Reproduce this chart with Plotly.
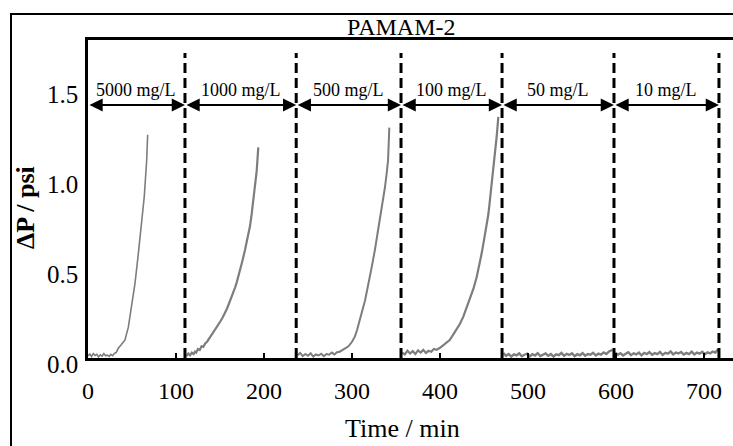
import plotly.graph_objects as go

# ---------------- data ----------------
title_text = "PAMAM-2"
x_title = "Time / min"
y_title = "<b>ΔP / psi</b>"

concentrations = ["5000 mg/L", "1000 mg/L", "500 mg/L", "100 mg/L", "50 mg/L", "10 mg/L"]
boundaries = [0, 110.2, 236.6, 355.7, 470.5, 597.7, 717.0]

x_ticks = [0, 100, 200, 300, 400, 500, 600, 700]
y_ticks = [0.0, 0.5, 1.0, 1.5]
y_tick_text = ["0.0", "0.5", "1.0", "1.5"]

seg1_t = [0, 2, 4, 6, 8, 10, 12, 14, 16, 18, 20, 22, 24, 26, 28, 30, 32, 34.4, 38, 42, 45.8,
          49.6, 53.4, 57.2, 61, 64, 66.7, 67.8]
seg1_y = [0.012, 0.022, 0.008, 0.025, 0.014, 0.020, 0.006, 0.018, 0.010, 0.024, 0.012, 0.016,
          0.009, 0.020, 0.013, 0.026, 0.030, 0.054, 0.075, 0.10, 0.17, 0.285, 0.415, 0.58, 0.75,
          0.90, 1.10, 1.24]

seg2_t = [112, 114, 116, 118, 120, 121.6, 123, 125, 127, 129, 131, 133, 135.5, 138, 141, 144,
          147, 150, 153, 155.7, 158, 160, 162.5, 165, 167, 169, 171, 172.7, 175.5, 178.4, 181,
          184, 186, 188, 190, 191.7, 193.5]
seg2_y = [0.010, 0.025, 0.015, 0.030, 0.022, 0.035, 0.030, 0.050, 0.045, 0.065, 0.062, 0.080,
          0.092, 0.110, 0.128, 0.155, 0.172, 0.200, 0.225, 0.250, 0.275, 0.300, 0.330, 0.360,
          0.390, 0.420, 0.455, 0.490, 0.540, 0.600, 0.660, 0.730, 0.800, 0.880, 0.960, 1.040,
          1.170]

seg3_t = [238, 241, 244, 247, 250, 253, 256, 259, 262, 265, 268, 271, 274, 277, 280, 283, 286,
          291, 296, 300, 303.4, 306, 309, 312, 314.8, 317.5, 320.5, 323, 326, 329, 331.8, 334.5,
          337.5, 339.5, 341, 342.4]
seg3_y = [0.015, 0.028, 0.010, 0.022, 0.012, 0.026, 0.008, 0.020, 0.014, 0.024, 0.010, 0.022,
          0.018, 0.030, 0.020, 0.032, 0.035, 0.050, 0.065, 0.090, 0.120, 0.160, 0.210, 0.265,
          0.320, 0.385, 0.450, 0.520, 0.600, 0.685, 0.770, 0.860, 0.950, 1.030, 1.100, 1.280]

seg4_t = [357, 360, 363, 366, 369, 372, 375, 378, 381, 384, 387, 390, 393, 396, 400, 405, 411,
          415, 419, 422.7, 426.5, 430, 434, 438, 441.7, 444.5, 447.3, 450, 453, 455, 456.8,
          458.7, 460.6, 462.5, 464.4, 466.3]
seg4_y = [0.030, 0.020, 0.040, 0.025, 0.038, 0.022, 0.042, 0.030, 0.045, 0.028, 0.040, 0.035,
          0.050, 0.045, 0.057, 0.075, 0.100, 0.130, 0.160, 0.190, 0.230, 0.275, 0.325, 0.385,
          0.450, 0.510, 0.580, 0.655, 0.730, 0.800, 0.880, 0.960, 1.040, 1.135, 1.230, 1.340]

seg5_t = [472, 475, 478, 481, 484, 487, 490, 493, 496, 499, 502, 505, 508, 511, 514, 517, 520,
          523, 526, 529, 532, 535, 538, 541, 544, 547, 550, 553, 556, 559, 562, 565, 568, 571,
          574, 577, 580, 583, 586, 589, 592, 596]
seg5_y = [0.028, 0.012, 0.022, 0.008, 0.020, 0.015, 0.026, 0.010, 0.018, 0.024, 0.009, 0.021,
          0.014, 0.027, 0.011, 0.019, 0.025, 0.013, 0.022, 0.008, 0.020, 0.016, 0.028, 0.012,
          0.023, 0.017, 0.026, 0.010, 0.021, 0.015, 0.027, 0.013, 0.022, 0.018, 0.029, 0.014,
          0.024, 0.019, 0.031, 0.022, 0.036, 0.045]

seg6_t = [599, 602, 605, 608, 611, 614, 617, 620, 623, 626, 629, 632, 635, 638, 641, 644, 647,
          650, 653, 656, 659, 662, 665, 668, 671, 674, 677, 680, 683, 686, 689, 692, 695, 698,
          701, 704, 707, 710, 713, 716]
seg6_y = [0.030, 0.018, 0.027, 0.014, 0.024, 0.032, 0.016, 0.026, 0.020, 0.030, 0.015, 0.028,
          0.022, 0.033, 0.018, 0.027, 0.021, 0.034, 0.017, 0.029, 0.024, 0.036, 0.020, 0.030,
          0.025, 0.033, 0.019, 0.028, 0.022, 0.035, 0.020, 0.030, 0.024, 0.034, 0.021, 0.031,
          0.026, 0.036, 0.030, 0.048]

segments = [(seg1_t, seg1_y), (seg2_t, seg2_y), (seg3_t, seg3_y),
            (seg4_t, seg4_y), (seg5_t, seg5_y), (seg6_t, seg6_y)]
seg_widths = [1.6, 2.2, 2.0, 2.2, 2.4, 2.4]
for t, y in segments:
    assert len(t) == len(y), (len(t), len(y))

# ---------------- figure ----------------
FONT = "'Liberation Serif', 'Times New Roman', Times, serif"
W, H = 733, 446
ML, MR, MT, MB = 88, 0, 40, 88
PW, PH = W - ML - MR, H - MT - MB

def px_x(p):
    return (p - ML) / PW

def px_y(p):
    return (H - MB - p) / PH

fig = go.Figure()
for (t, y), w in zip(segments, seg_widths):
    fig.add_trace(go.Scatter(x=t, y=y, mode="lines",
                             line=dict(color="#7d7d7d", width=w),
                             showlegend=False, hoverinfo="skip"))

y_max = PH / 180.0
dash_top = (H - MB - 53) / 180.0
arrow_y = (H - MB - 105) / 180.0
label_y = (H - MB - 90) / 180.0

shapes = []
for b in boundaries[1:]:
    shapes.append(dict(type="line", xref="x", yref="y", x0=b, x1=b, y0=0, y1=dash_top,
                       line=dict(color="black", width=3, dash="10px,5px")))
# outer frame
shapes.append(dict(type="rect", xref="paper", yref="paper",
                   x0=px_x(11), x1=1.2, y0=-0.5, y1=px_y(14),
                   line=dict(color="black", width=2)))

annotations = []
for i, c in enumerate(concentrations):
    a, b = boundaries[i], boundaries[i + 1]
    annotations.append(dict(x=b, y=arrow_y, ax=a, ay=arrow_y, xref="x", yref="y",
                            axref="x", ayref="y", text="", showarrow=True,
                            arrowside="end+start", arrowhead=2, arrowsize=1.2,
                            arrowwidth=2.2, arrowcolor="black"))
    annotations.append(dict(x=(a + b) / 2, y=label_y, xref="x", yref="y", text=c,
                            xanchor="center", yanchor="middle", showarrow=False,
                            font=dict(family=FONT, size=18, color="black")))

annotations.append(dict(x=px_x(401), y=px_y(27), xref="paper", yref="paper",
                        xanchor="center", yanchor="middle",
                        text=title_text, showarrow=False,
                        font=dict(family=FONT, size=24, color="black")))
annotations.append(dict(x=px_x(402), y=px_y(428), xref="paper", yref="paper",
                        xanchor="center", yanchor="middle",
                        text=x_title, showarrow=False,
                        font=dict(family=FONT, size=26, color="black")))
annotations.append(dict(x=px_x(25), y=px_y(208), xref="paper", yref="paper",
                        xanchor="center", yanchor="middle",
                        text=y_title, showarrow=False, textangle=-90,
                        font=dict(family=FONT, size=26, color="black")))

fig.update_layout(
    width=W, height=H,
    margin=dict(l=ML, r=MR, t=MT, b=MB),
    paper_bgcolor="white", plot_bgcolor="white",
    font=dict(family=FONT),
    shapes=shapes, annotations=annotations,
    xaxis=dict(range=[0, PW / 0.88], showline=True, linecolor="black", linewidth=2.5,
               mirror=True, ticks="inside", ticklen=5, tickwidth=2, tickcolor="black",
               tickvals=x_ticks, tickfont=dict(family=FONT, size=24, color="black"),
               showgrid=False, zeroline=False, ticklabelstandoff=9),
    yaxis=dict(range=[0, y_max], showline=True, linecolor="black", linewidth=2.5,
               ticks="", tickvals=y_ticks, ticktext=y_tick_text,
               tickfont=dict(family=FONT, size=25, color="black"),
               showgrid=False, zeroline=False, ticklabelstandoff=2, ticklabelshift=6),
)

fig.write_html("out.html")
